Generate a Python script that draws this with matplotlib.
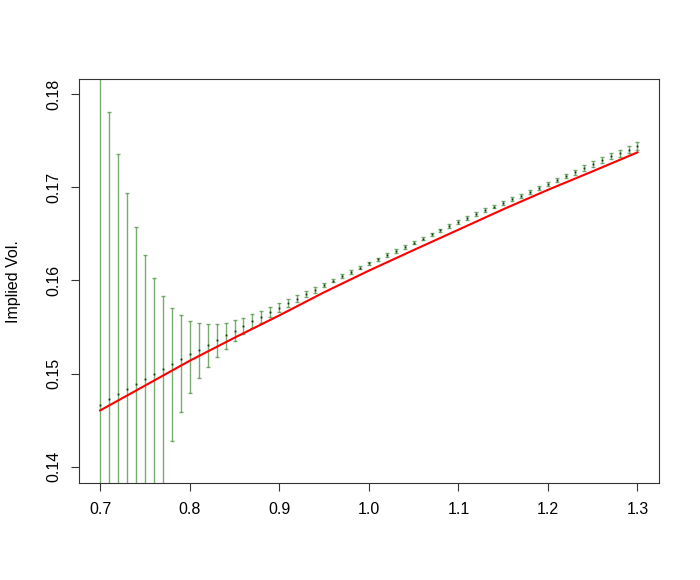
import numpy as np
import matplotlib
matplotlib.use("Agg")
import matplotlib.pyplot as plt

plt.rcParams['font.family'] = ['Liberation Sans', 'DejaVu Sans']

# strikes / moneyness grid
strike = [0.70, 0.71, 0.72, 0.73, 0.74, 0.75, 0.76, 0.77, 0.78, 0.79,
          0.80, 0.81, 0.82, 0.83, 0.84, 0.85, 0.86, 0.87, 0.88, 0.89,
          0.90, 0.91, 0.92, 0.93, 0.94, 0.95, 0.96, 0.97, 0.98, 0.99,
          1.00, 1.01, 1.02, 1.03, 1.04, 1.05, 1.06, 1.07, 1.08, 1.09,
          1.10, 1.11, 1.12, 1.13, 1.14, 1.15, 1.16, 1.17, 1.18, 1.19,
          1.20, 1.21, 1.22, 1.23, 1.24, 1.25, 1.26, 1.27, 1.28, 1.29, 1.30]

# estimated implied vol (points)
vol = [0.14658, 0.14726, 0.14782, 0.14836, 0.14886, 0.14940, 0.14994, 0.15044, 0.15101, 0.15154,
       0.15211, 0.15258, 0.15308, 0.15358, 0.15412, 0.15462, 0.15511, 0.15562, 0.15612, 0.15658,
       0.15708, 0.15758, 0.15805, 0.15854, 0.15901, 0.15951, 0.15998, 0.16044, 0.16090, 0.16137,
       0.16183, 0.16226, 0.16272, 0.16315, 0.16358, 0.16405, 0.16448, 0.16494, 0.16537, 0.16583,
       0.16626, 0.16669, 0.16710, 0.16751, 0.16791, 0.16830, 0.16869, 0.16909, 0.16952, 0.16990,
       0.17033, 0.17076, 0.17119, 0.17162, 0.17205, 0.17248, 0.17290, 0.17333, 0.17365, 0.17402, 0.17445]

# error bar sizes (below / above the point)
err_lo = [0.0300, 0.0450, 0.0380, 0.0310, 0.0250, 0.0200, 0.0155, 0.0125, 0.00826, 0.00568,
          0.00414, 0.00304, 0.00232, 0.00179, 0.00143, 0.00115, 0.00089, 0.00072, 0.00064, 0.00054,
          0.00050, 0.00043, 0.00040, 0.00035, 0.00032, 0.00025, 0.00020, 0.00019, 0.00018, 0.00018,
          0.00017, 0.00017, 0.00017, 0.00017, 0.00017, 0.00017, 0.00017, 0.00017, 0.00018, 0.00018,
          0.00018, 0.00019, 0.00019, 0.00020, 0.00020, 0.00021, 0.00021, 0.00022, 0.00022, 0.00023,
          0.00023, 0.00024, 0.00025, 0.00027, 0.00029, 0.00031, 0.00033, 0.00035, 0.00037, 0.00040, 0.00042]
err_hi = [0.0434, 0.03083, 0.02573, 0.02101, 0.01691, 0.01329, 0.01032, 0.00793, 0.00603, 0.00472,
          0.00358, 0.00282, 0.00221, 0.00179, 0.00136, 0.00114, 0.00090, 0.00078, 0.00064, 0.00057,
          0.00047, 0.00039, 0.00035, 0.00032, 0.00028, 0.00025, 0.00020, 0.00019, 0.00018, 0.00018,
          0.00017, 0.00017, 0.00017, 0.00017, 0.00017, 0.00017, 0.00017, 0.00017, 0.00018, 0.00018,
          0.00018, 0.00019, 0.00019, 0.00020, 0.00020, 0.00021, 0.00021, 0.00022, 0.00022, 0.00023,
          0.00023, 0.00024, 0.00025, 0.00027, 0.00029, 0.00031, 0.00033, 0.00035, 0.00037, 0.00040, 0.00042]

# true / model smile (red line)
model_k = [0.70, 0.75, 0.80, 0.85, 0.90, 0.95, 1.00, 1.05, 1.10, 1.15, 1.20, 1.25, 1.30]
model_vol = [0.14605, 0.14871, 0.15138, 0.15385, 0.15624, 0.15872, 0.16104,
             0.16325, 0.16543, 0.16762, 0.16971, 0.17170, 0.17373]

fig = plt.figure(figsize=(7, 5.8), dpi=100)
ax = fig.add_axes([0.1124, 0.1678, 0.829, 0.696])

ax.errorbar(strike, vol, yerr=[err_lo, err_hi], fmt='none',
            ecolor='#3f8a35', elinewidth=1.0, capsize=1.3, capthick=1.0, alpha=0.7)
ax.plot(strike, vol, 's', color='#0b3d0b', markersize=1.3, markeredgewidth=0)
ax.plot(model_k, model_vol, color='red', lw=1.5)

ax.set_xlim(0.676, 1.324)
ax.set_ylim(0.1383, 0.1816)
ax.set_xticks([0.7, 0.8, 0.9, 1.0, 1.1, 1.2, 1.3])
ax.set_xticklabels(['0.7', '0.8', '0.9', '1.0', '1.1', '1.2', '1.3'])
ax.set_yticks([0.14, 0.15, 0.16, 0.17, 0.18])
ax.set_yticklabels(['0.14', '0.15', '0.16', '0.17', '0.18'], rotation=90, va='center')
ax.tick_params(axis='both', direction='out', length=5.5, width=0.8, labelsize=11.5, color='#333333')
ax.tick_params(axis='x', pad=8.5)
ax.tick_params(axis='y', pad=7)
for s in ax.spines.values():
    s.set_color('#333333')
    s.set_linewidth(0.8)

fig.text(0.02, 0.5148, 'Implied Vol.', rotation=90, va='center', ha='center', fontsize=11.5)

fig.savefig('out.png', dpi=100)
